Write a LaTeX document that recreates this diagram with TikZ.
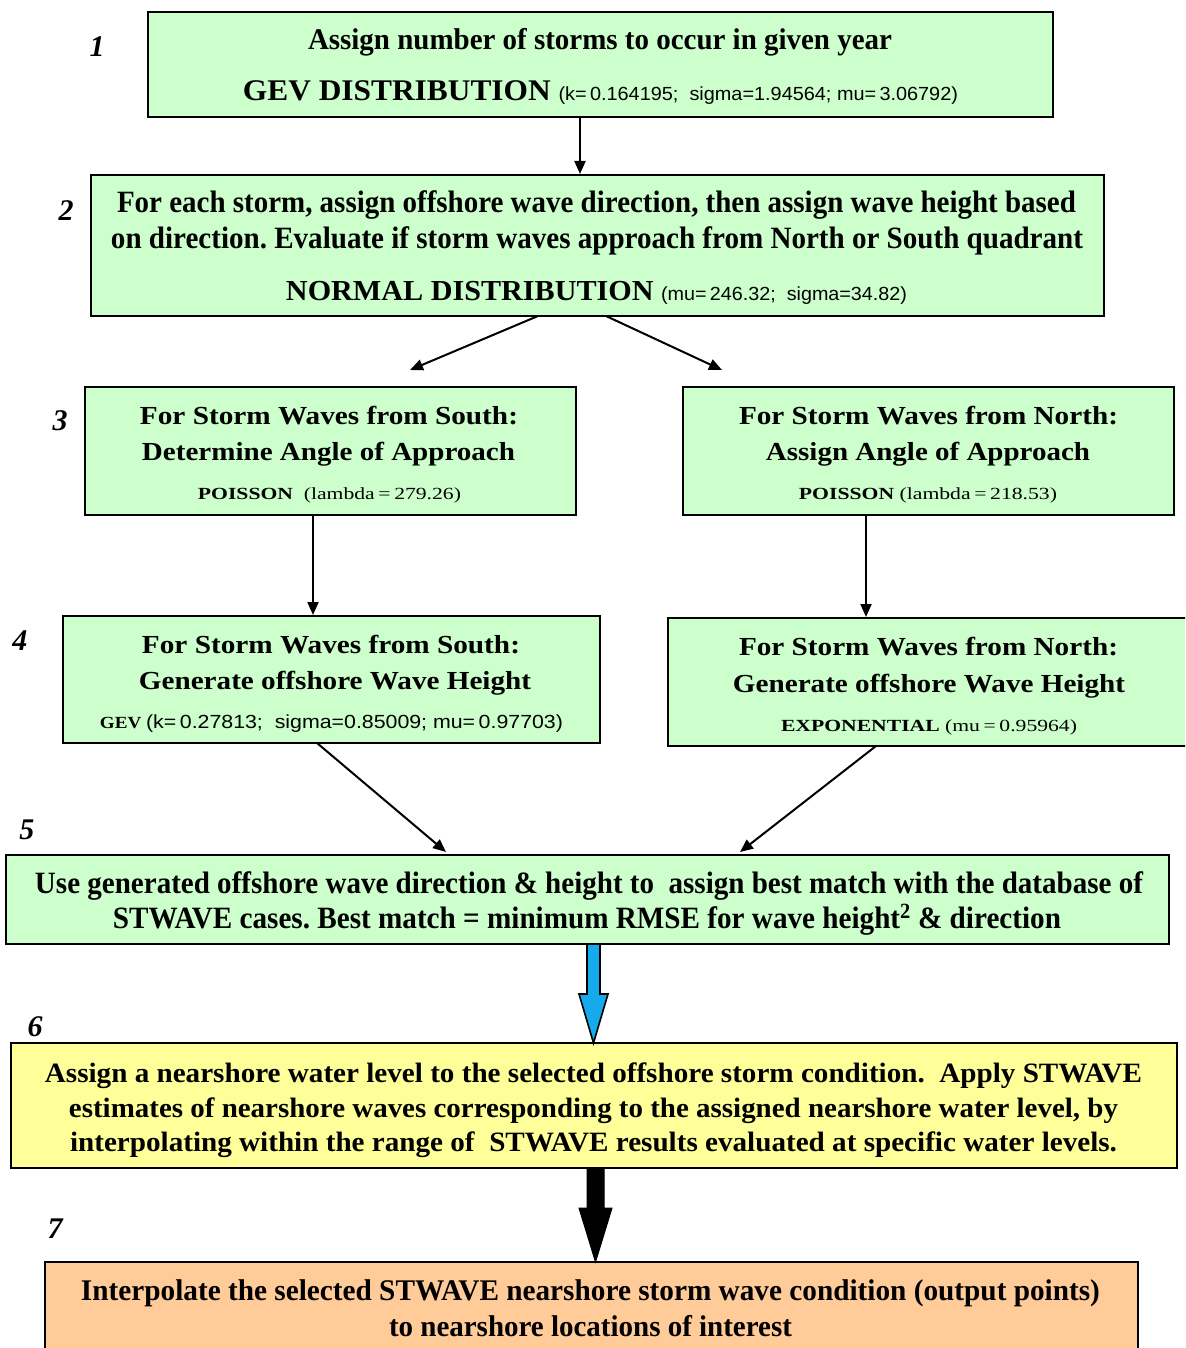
\documentclass[tikz,border=0pt]{standalone}
\usepackage{fontspec}
\setmainfont{Liberation Serif}
\setsansfont{Liberation Sans}
\usetikzlibrary{arrows.meta}
\definecolor{boxgreen}{RGB}{204,255,204}
\definecolor{boxyellow}{RGB}{255,255,153}
\definecolor{boxorange}{RGB}{255,204,153}
\definecolor{arrowblue}{RGB}{20,170,235}
\frenchspacing
% stretch or squeeze a line of text horizontally to a given width, keeping its height
\newcommand\fitw[2]{\resizebox{#1pt}{\height}{#2}}
\newcommand\bigtxt[1]{\fontsize{#1}{#1}\selectfont\bfseries}
\newcommand\smallsans{\fontsize{19}{19}\selectfont\sffamily\mdseries}
\newcommand\smallserif{\fontsize{17}{17}\selectfont\rmfamily\mdseries}
\begin{document}
\begin{tikzpicture}[x=1pt,y=-1pt,
  stage/.style={draw=black, line width=2.4pt, inner sep=0pt, outer sep=0pt},
  gbox/.style={stage, fill=boxgreen},
  ybox/.style={stage, fill=boxyellow},
  obox/.style={stage, fill=boxorange},
  txt/.style={inner sep=0pt, outer sep=0pt, anchor=base},
  num/.style={inner sep=0pt, font=\fontsize{30}{30}\selectfont\bfseries\itshape},
  link/.style={line width=2pt, -{Triangle[length=13pt,width=11pt]}}]
\useasboundingbox (0,0) rectangle (1185,1348);
\fill[white] (0,0) rectangle (1185,1348);
\clip (0,0) rectangle (1185,1348);

% ---- stage boxes ----
\node[gbox, minimum width=905pt, minimum height=105pt] (b1) at (600.5,64.5) {};
\node[gbox, minimum width=1013pt, minimum height=141pt] (b2) at (597.5,245.5) {};
\node[gbox, minimum width=491pt, minimum height=128pt] (b3s) at (330.5,451) {};
\node[gbox, minimum width=491pt, minimum height=128pt] (b3n) at (928.5,451) {};
\node[gbox, minimum width=537pt, minimum height=127pt] (b4s) at (331.5,679.5) {};
\node[gbox, minimum width=530pt, minimum height=128pt] (b4n) at (933,682) {};
\node[gbox, minimum width=1163pt, minimum height=89pt] (b5) at (587.5,899.5) {};
\node[ybox, minimum width=1166pt, minimum height=125pt] (b6) at (594,1105.5) {};
\node[obox, minimum width=1093pt, minimum height=100pt] (b7) at (591.5,1312) {};

% ---- step numbers ----
\node[num] (n1) at (97,47) {1};
\node[num] (n2) at (66,211) {2};
\node[num] (n3) at (60,421) {3};
\node[num] (n4) at (20,641) {4};
\node[num] (n5) at (27,830) {5};
\node[num] (n6) at (35,1027) {6};
\node[num] (n7) at (55,1229) {7};

% ---- texts ----
\node[txt] (t1a) at (600,50) {\fitw{584}{\bigtxt{30}Assign number of storms to occur in given year}};
\node[txt] (t1b) at (600.5,101) {\fitw{715}{\bigtxt{30}GEV DISTRIBUTION {\smallsans(k=\,0.164195; \ sigma=1.94564; mu=\,3.06792)}}};

\node[txt] (t2a) at (596.5,213) {\fitw{959}{\bigtxt{31}For each storm, assign offshore wave direction, then assign wave height based}};
\node[txt] (t2b) at (597,248) {\fitw{972}{\bigtxt{31}on direction. Evaluate if storm waves approach from North or South quadrant}};
\node[txt] (t2c) at (596.5,300) {\fitw{621}{\bigtxt{29}NORMAL DISTRIBUTION {\smallsans(mu=\,246.32; \ sigma=34.82)}}};

\node[txt] (t3sa) at (329,424) {\fitw{378}{\bigtxt{26}For Storm Waves from South:}};
\node[txt] (t3sb) at (328.5,460) {\fitw{373}{\bigtxt{26}Determine Angle of Approach}};
\node[txt] (t3sc) at (329.5,499) {\fitw{263}{\bigtxt{17}POISSON \ {\smallserif(lambda\,=\,279.26)}}};

\node[txt] (t3na) at (928.5,424) {\fitw{379}{\bigtxt{26}For Storm Waves from North:}};
\node[txt] (t3nb) at (928,460) {\fitw{324}{\bigtxt{26}Assign Angle of Approach}};
\node[txt] (t3nc) at (928,499) {\fitw{258}{\bigtxt{17}POISSON {\smallserif(lambda\,=\,218.53)}}};

\node[txt] (t4sa) at (331,653) {\fitw{378}{\bigtxt{26}For Storm Waves from South:}};
\node[txt] (t4sb) at (335,689) {\fitw{392}{\bigtxt{26}Generate offshore Wave Height}};
\node[txt] (t4sc) at (331.5,728) {\fitw{463}{\bigtxt{17}GEV {\smallsans(k=\,0.27813; \ sigma=0.85009; mu=\,0.97703)}}};

\node[txt] (t4na) at (928.5,655) {\fitw{379}{\bigtxt{26}For Storm Waves from North:}};
\node[txt] (t4nb) at (929,692) {\fitw{392}{\bigtxt{26}Generate offshore Wave Height}};
\node[txt] (t4nc) at (929,731) {\fitw{296}{\bigtxt{17}EXPONENTIAL {\smallserif(mu\,=\,0.95964)}}};

\node[txt] (t5a) at (589,893) {\fitw{1108}{\bigtxt{31}Use generated offshore wave direction \& height to \ assign best match with the database of}};
\node[txt] (t5b) at (587,928) {\fitw{948}{\bigtxt{31}STWAVE cases. Best match = minimum RMSE for wave height\textsuperscript{2} \& direction}};

\node[txt] (t6a) at (593.5,1082) {\fitw{1097}{\bigtxt{28}Assign a nearshore water level to the selected offshore storm condition. \ Apply STWAVE}};
\node[txt] (t6b) at (593.5,1117) {\fitw{1049}{\bigtxt{28}estimates of nearshore waves corresponding to the assigned nearshore water level, by}};
\node[txt] (t6c) at (593.5,1151) {\fitw{1047}{\bigtxt{28}interpolating within the range of \ STWAVE results evaluated at specific water levels.}};

\node[txt] (t7a) at (590.5,1300) {\fitw{1019}{\bigtxt{30}Interpolate the selected STWAVE nearshore storm wave condition (output points)}};
\node[txt] (t7b) at (590.5,1336) {\fitw{403}{\bigtxt{30}to nearshore locations of interest}};

% ---- thin connectors ----
\draw[link] ([xshift=-20.5pt]b1.south) -- ([xshift=-17.5pt,yshift=1pt]b2.north);
\coordinate (e3s) at (410,370);
\coordinate (e3n) at (722,370);
\draw[link] ([xshift=-59.5pt]b2.south) -- (e3s);
\draw[link] ([xshift=8.5pt]b2.south) -- (e3n);
\draw[link] ([xshift=-17.5pt]b3s.south) -- ([xshift=-18.5pt,yshift=1pt]b4s.north);
\draw[link] ([xshift=-62.5pt]b3n.south) -- ([xshift=-67pt,yshift=1pt]b4n.north);
\coordinate (e5s) at (446,852);
\coordinate (e5n) at (740,852);
\draw[link] ([xshift=-14.5pt]b4s.south) -- (e5s);
\draw[link] ([xshift=-57pt]b4n.south) -- (e5n);

% ---- block arrows between the lower stages ----
\coordinate (ba1) at ([xshift=6pt]b5.south);
\coordinate (ba2) at ([xshift=-0.5pt]b6.north);
\fill[arrowblue, draw=black, line width=1.6pt, line join=miter]
  ([xshift=-6.5pt]ba1) -- ([xshift=6.5pt]ba1)
  -- ([xshift=6.5pt,yshift=49pt]ba2) -- ([xshift=14.5pt,yshift=49pt]ba2)
  -- (ba2)
  -- ([xshift=-14.5pt,yshift=49pt]ba2) -- ([xshift=-6.5pt,yshift=49pt]ba2) -- cycle;
\coordinate (bb1) at ([xshift=1.5pt]b6.south);
\coordinate (bb2) at ([xshift=4pt]b7.north);
\fill[black, draw=black, line width=1pt, line join=miter]
  ([xshift=-8.5pt]bb1) -- ([xshift=8.5pt]bb1)
  -- ([xshift=8.5pt,yshift=54pt]bb2) -- ([xshift=16.5pt,yshift=54pt]bb2)
  -- (bb2)
  -- ([xshift=-16.5pt,yshift=54pt]bb2) -- ([xshift=-8.5pt,yshift=54pt]bb2) -- cycle;
\end{tikzpicture}
\end{document}
